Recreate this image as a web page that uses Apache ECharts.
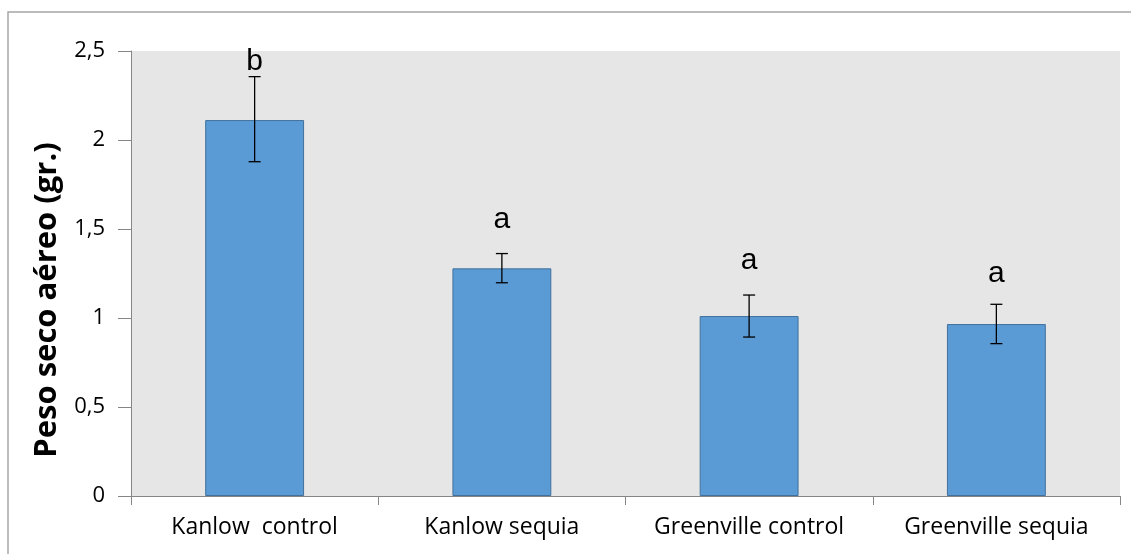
<!DOCTYPE html>
<html>
<head>
<meta charset="utf-8">
<script src="https://cdn.jsdelivr.net/npm/echarts@6/dist/echarts.min.js"></script>
<style>
html,body{margin:0;padding:0;background:#fff;}
#chart{width:1131px;height:554px;}
</style>
</head>
<body>
<div id="chart"></div>
<script>
var categories = ['Kanlow  control', 'Kanlow sequia', 'Greenville control', 'Greenville sequia'];
var means = [2.112, 1.279, 1.011, 0.966];
var errLow = [1.878, 1.198, 0.893, 0.856];
var errHigh = [2.356, 1.362, 1.129, 1.077];
var letters = ['b', 'a', 'a', 'a'];
var letterY = [2.44, 1.55, 1.32, 1.25];
var yTicks = [0, 0.5, 1, 1.5, 2, 2.5];

var chart = echarts.init(document.getElementById('chart'));
chart.setOption({
  animation: false,
  graphic: [
    {type: 'rect', shape: {x: 8, y: 12, width: 1200, height: 600}, style: {fill: 'none', stroke: '#a6a6a6', lineWidth: 1.5}, z: -10},
    {type: 'text', x: 47, y: 300, rotation: Math.PI / 2, style: {text: 'Peso seco aéreo (gr.)', font: 'bold 31px "Open Sans"', fill: '#000', align: 'center', verticalAlign: 'middle'}}
  ],
  grid: {left: 131, right: 11, top: 51, bottom: 58, show: true, backgroundColor: '#e6e6e6', borderWidth: 0},
  xAxis: {
    type: 'category', data: categories,
    axisLine: {lineStyle: {color: '#868686', width: 1}},
    axisTick: {show: true, length: 9, lineStyle: {color: '#868686'}},
    axisLabel: {fontFamily: 'Open Sans', fontSize: 23, color: '#000', margin: 20}
  },
  yAxis: {
    type: 'value', min: 0, max: 2.5, interval: 0.5,
    axisLine: {show: true, lineStyle: {color: '#868686', width: 1}},
    axisTick: {show: true, length: 13, lineStyle: {color: '#868686'}},
    splitLine: {show: false},
    axisLabel: {fontFamily: 'Open Sans', fontSize: 22, color: '#000', margin: 26,
      formatter: function (v) { return String(v).replace('.', ','); }}
  },
  series: [
    {
      type: 'bar', data: means, barWidth: '40%',
      itemStyle: {color: '#5b9bd5', borderColor: '#41719c', borderWidth: 1}
    },
    {
      type: 'custom',
      data: categories.map(function (c, i) { return [i, errLow[i], errHigh[i]]; }),
      renderItem: function (params, api) {
        var lo = api.coord([api.value(0), api.value(1)]);
        var hi = api.coord([api.value(0), api.value(2)]);
        var w = 6;
        var st = {stroke: '#000', lineWidth: 1.3};
        return {type: 'group', children: [
          {type: 'line', shape: {x1: hi[0], y1: hi[1], x2: lo[0], y2: lo[1]}, style: st},
          {type: 'line', shape: {x1: hi[0] - w, y1: hi[1], x2: hi[0] + w, y2: hi[1]}, style: st},
          {type: 'line', shape: {x1: lo[0] - w, y1: lo[1], x2: lo[0] + w, y2: lo[1]}, style: st}
        ]};
      },
      z: 5
    },
    {
      type: 'custom',
      data: categories.map(function (c, i) { return [i, letterY[i]]; }),
      renderItem: function (params, api) {
        var p = api.coord([api.value(0), api.value(1)]);
        return {type: 'text', x: p[0], y: p[1], style: {text: letters[params.dataIndex], font: '30px "Liberation Sans"', fill: '#000', align: 'center', verticalAlign: 'middle'}};
      },
      z: 6
    }
  ]
});
</script>
</body>
</html>
